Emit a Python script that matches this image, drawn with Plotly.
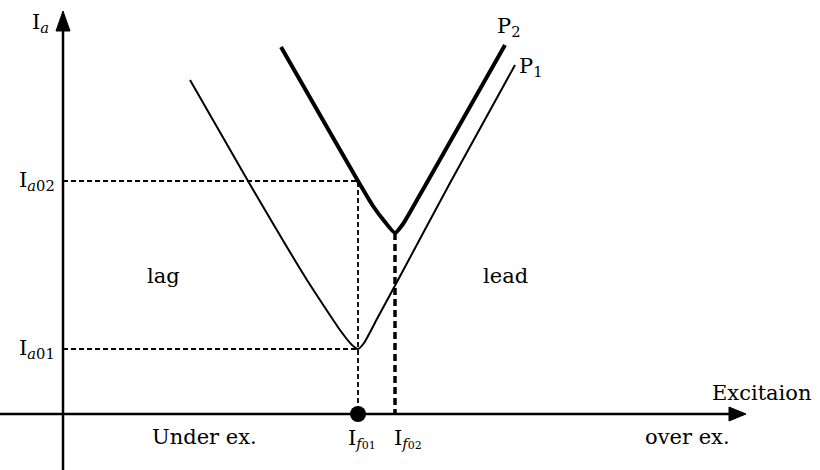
import plotly.graph_objects as go

# V-curves of a synchronous motor: armature current vs field excitation
# Coordinates are in arbitrary units with the origin at the axis crossing.

# Load P1 (lighter load) V-curve
p1_x = [127, 185, 244, 277, 289, 295, 301, 315, 335, 387, 452]
p1_y = [334, 233, 134, 84, 69, 65, 71, 97, 134, 231, 349]

# Load P2 (heavier load) V-curve
p2_x = [218, 257, 295, 310, 322, 332, 340, 350, 362, 442]
p2_y = [367, 299, 233, 208, 192, 181, 190, 207, 228, 369]

# Reference operating points
i_a01, i_a02 = 65, 233      # armature currents
i_f01, i_f02 = 295, 332     # field currents
p2_min = 181                # minimum of the P2 curve (at I_f02)

# Tick-style labels
ia_labels = ["I<sub><i>a</i>01</sub>", "I<sub><i>a</i>02</sub>"]
if_labels = ["I<sub><i>f</i><span style='font-size:11px'>01</span></sub>",
             "I<sub><i>f</i><span style='font-size:11px'>02</span></sub>"]

FONT = "DejaVu Serif"
INK = "#000000"
FS = 21

fig = go.Figure()

# Dashed guides
fig.add_trace(go.Scatter(x=[0, i_f01, i_f01], y=[i_a02, i_a02, 0], mode="lines",
                         line=dict(color=INK, width=1.8, dash="5px,3px"), hoverinfo="skip"))
fig.add_trace(go.Scatter(x=[0, i_f01], y=[i_a01, i_a01], mode="lines",
                         line=dict(color=INK, width=1.8, dash="5px,3px"), hoverinfo="skip"))
fig.add_trace(go.Scatter(x=[i_f02, i_f02], y=[p2_min, 0], mode="lines",
                         line=dict(color=INK, width=3.5, dash="7px,4px"), hoverinfo="skip"))

# Curves
fig.add_trace(go.Scatter(x=p1_x, y=p1_y, mode="lines", line=dict(color=INK, width=2, shape="spline", smoothing=0.5),
                         hoverinfo="skip"))
fig.add_trace(go.Scatter(x=p2_x, y=p2_y, mode="lines", line=dict(color=INK, width=4, shape="spline", smoothing=0.5),
                         hoverinfo="skip"))

# Operating point marker on the excitation axis
fig.add_trace(go.Scatter(x=[i_f01], y=[0], mode="markers",
                         marker=dict(color=INK, size=16), hoverinfo="skip"))

# Axes with arrows
fig.add_shape(type="line", x0=-63, y0=0, x1=672, y1=0, line=dict(color=INK, width=2.5))
fig.add_shape(type="line", x0=0, y0=-56, x1=0, y1=385, line=dict(color=INK, width=2.5))
fig.add_shape(type="path", path="M 666 -7 L 683 0 L 666 7 Z", fillcolor=INK, line=dict(color=INK, width=1))
fig.add_shape(type="path", path="M -7 383 L 0 403 L 7 383 Z", fillcolor=INK, line=dict(color=INK, width=1))

def label(x, y, text, size=FS, xanchor="center", yanchor="middle"):
    fig.add_annotation(x=x, y=y, text=text, showarrow=False, xanchor=xanchor, yanchor=yanchor,
                       font=dict(family=FONT, size=size, color=INK))

label(-23, 391, "I<sub><i>a</i></sub>")
label(-6, i_a02, ia_labels[1], xanchor="right")
label(-6, i_a01, ia_labels[0], xanchor="right")
label(i_f01 + 4, -25, if_labels[0])
label(i_f02 + 13, -25, if_labels[1])
label(100, 138, "lag")
label(442, 138, "lead")
label(141, -23, "Under ex.")
label(624, -23, "over ex.")
label(699, 21, "Excitaion")
label(446, 387, "P<sub>2</sub>")
label(468, 347, "P<sub>1</sub>")

fig.update_layout(
    width=820, height=470,
    margin=dict(l=0, r=0, t=0, b=0),
    paper_bgcolor="white", plot_bgcolor="white",
    showlegend=False,
    xaxis=dict(range=[-63, 757], visible=False, fixedrange=True),
    yaxis=dict(range=[-56, 414], visible=False, fixedrange=True),
)

fig.write_html("out.html")
